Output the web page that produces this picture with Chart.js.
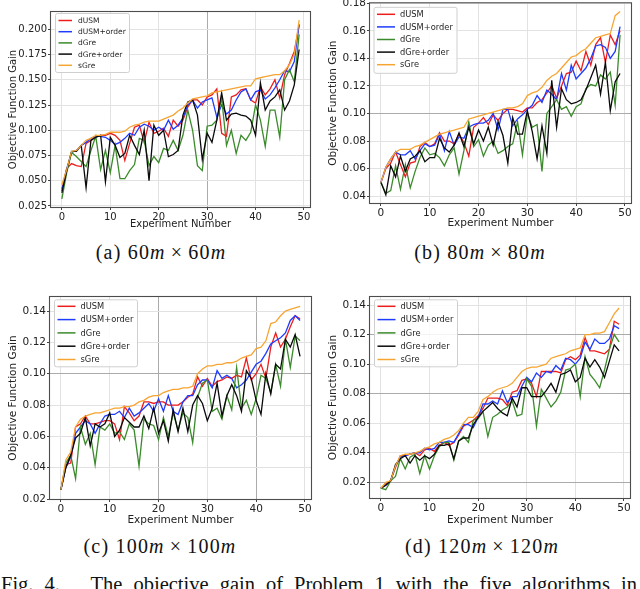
<!DOCTYPE html>
<html><head><meta charset="utf-8">
<script src="https://cdn.jsdelivr.net/npm/chart.js@4.4.0/dist/chart.umd.min.js"></script>
<style>
html,body{margin:0;padding:0;background:#fff;}
body{width:640px;height:589px;overflow:hidden;position:relative;font-family:'Liberation Serif','Times New Roman',serif;color:#111;}
canvas{position:absolute;}
.cap{position:absolute;font-family:'Liberation Serif',serif;font-size:20px;line-height:1;white-space:nowrap;letter-spacing:1.2px;transform:translateX(-50%);}
.cap .op{margin:0 5px;}
.fig{position:absolute;left:1px;top:574px;width:636px;font-family:'Liberation Serif',serif;font-size:20.5px;line-height:1;text-align:justify;text-align-last:justify;white-space:nowrap;}
.fig .lead{margin-right:20px;}
</style></head><body>
<canvas id="cA" width="320" height="230" style="left:0;top:0"></canvas>
<canvas id="cB" width="320" height="230" style="left:320px;top:0"></canvas>
<canvas id="cC" width="320" height="237" style="left:0;top:290px"></canvas>
<canvas id="cD" width="320" height="237" style="left:320px;top:290px"></canvas>
<div class="cap" style="left:161px;top:242px">(a) 60<i>m</i><span class="op">×</span>60<i>m</i></div>
<div class="cap" style="left:480px;top:242px">(b) 80<i>m</i><span class="op">×</span>80<i>m</i></div>
<div class="cap" style="left:160px;top:536px">(c) 100<i>m</i><span class="op">×</span>100<i>m</i></div>
<div class="cap" style="left:482px;top:536px">(d) 120<i>m</i><span class="op">×</span>120<i>m</i></div>
<div class="fig"><span class="lead">Fig. 4.</span> The objective gain of Problem 1 with the five algorithms in</div>
<script>
// ---------- data ----------
const seriesNames = ['dUSM', 'dUSM+order', 'dGre', 'dGre+order', 'sGre'];
const xTicks = [0, 10, 20, 30, 40, 50];

// (a) 60m x 60m
const yTicksA = [0.025, 0.050, 0.075, 0.100, 0.125, 0.150, 0.175, 0.200];
const dUSM_A = [0.042,0.062,0.067,0.065,0.064,0.087,0.090,0.094,0.095,0.095,0.097,0.095,0.090,0.070,0.087,0.103,0.105,0.088,0.108,0.097,0.099,0.102,0.094,0.110,0.104,0.110,0.123,0.130,0.130,0.125,0.133,0.135,0.141,0.097,0.094,0.133,0.135,0.140,0.141,0.130,0.127,0.143,0.135,0.141,0.150,0.132,0.155,0.166,0.178,0.204];
const dUSMorder_A = [0.040,0.062,0.078,0.080,0.085,0.088,0.092,0.094,0.094,0.093,0.090,0.086,0.088,0.092,0.097,0.095,0.103,0.106,0.104,0.100,0.103,0.100,0.110,0.101,0.105,0.112,0.125,0.130,0.122,0.128,0.130,0.132,0.113,0.125,0.116,0.120,0.130,0.138,0.141,0.130,0.138,0.140,0.131,0.135,0.142,0.150,0.159,0.158,0.168,0.205];
const dGre_A = [0.032,0.058,0.078,0.074,0.069,0.064,0.080,0.094,0.061,0.080,0.058,0.085,0.052,0.052,0.060,0.066,0.092,0.090,0.065,0.074,0.068,0.082,0.080,0.090,0.080,0.095,0.120,0.100,0.065,0.060,0.104,0.105,0.110,0.132,0.085,0.100,0.077,0.095,0.090,0.098,0.125,0.110,0.084,0.120,0.120,0.093,0.150,0.160,0.148,0.195];
const dGreOrder_A = [0.038,0.060,0.079,0.079,0.085,0.043,0.090,0.093,0.095,0.049,0.093,0.085,0.073,0.077,0.095,0.085,0.076,0.100,0.050,0.105,0.095,0.100,0.074,0.076,0.080,0.115,0.128,0.130,0.115,0.071,0.097,0.088,0.110,0.137,0.110,0.116,0.117,0.115,0.114,0.110,0.095,0.147,0.120,0.129,0.133,0.140,0.120,0.129,0.145,0.180];
const sGre_A = [0.046,0.061,0.079,0.080,0.085,0.090,0.092,0.095,0.095,0.096,0.098,0.098,0.098,0.099,0.103,0.105,0.106,0.108,0.109,0.109,0.109,0.111,0.113,0.115,0.119,0.122,0.127,0.131,0.132,0.133,0.134,0.137,0.138,0.139,0.140,0.141,0.142,0.143,0.144,0.144,0.151,0.152,0.153,0.154,0.155,0.155,0.159,0.165,0.175,0.209];

// (b) 80m x 80m
const yTicksB = [0.04, 0.06, 0.08, 0.10, 0.12, 0.14, 0.16, 0.18];
const dUSM_B = [0.050,0.060,0.064,0.072,0.063,0.054,0.064,0.065,0.076,0.079,0.076,0.078,0.086,0.080,0.080,0.078,0.085,0.079,0.069,0.090,0.093,0.097,0.092,0.099,0.095,0.100,0.103,0.103,0.102,0.101,0.104,0.104,0.108,0.110,0.115,0.120,0.111,0.120,0.129,0.130,0.138,0.131,0.145,0.135,0.150,0.155,0.137,0.157,0.150,0.160];
const dUSMorder_B = [0.050,0.061,0.067,0.072,0.070,0.070,0.073,0.067,0.073,0.078,0.076,0.077,0.085,0.073,0.087,0.077,0.083,0.082,0.090,0.092,0.093,0.093,0.095,0.100,0.088,0.103,0.103,0.091,0.096,0.099,0.103,0.106,0.113,0.108,0.117,0.114,0.110,0.129,0.117,0.135,0.125,0.129,0.133,0.140,0.149,0.150,0.148,0.140,0.145,0.163];
const dGre_B = [0.050,0.042,0.044,0.062,0.045,0.063,0.046,0.058,0.068,0.075,0.070,0.071,0.068,0.062,0.070,0.075,0.056,0.073,0.094,0.076,0.081,0.069,0.077,0.080,0.071,0.073,0.076,0.078,0.094,0.070,0.100,0.090,0.092,0.058,0.100,0.105,0.110,0.103,0.105,0.098,0.105,0.107,0.118,0.121,0.120,0.128,0.125,0.130,0.106,0.157];
const dGreOrder_B = [0.050,0.041,0.062,0.054,0.069,0.058,0.067,0.069,0.073,0.065,0.068,0.068,0.082,0.075,0.072,0.077,0.086,0.076,0.090,0.078,0.088,0.080,0.090,0.077,0.094,0.084,0.064,0.097,0.085,0.085,0.102,0.087,0.067,0.091,0.071,0.124,0.090,0.118,0.110,0.107,0.108,0.110,0.117,0.126,0.135,0.114,0.137,0.102,0.123,0.129];
const sGre_B = [0.050,0.061,0.067,0.072,0.074,0.074,0.074,0.076,0.077,0.079,0.081,0.083,0.085,0.086,0.087,0.088,0.089,0.090,0.096,0.097,0.098,0.099,0.100,0.101,0.102,0.103,0.104,0.104,0.105,0.107,0.113,0.115,0.116,0.119,0.124,0.127,0.129,0.133,0.137,0.141,0.142,0.145,0.147,0.151,0.155,0.156,0.157,0.158,0.171,0.174];

// (c) 100m x 100m
const yTicksC = [0.02, 0.04, 0.06, 0.08, 0.10, 0.12, 0.14];
const dUSM_C = [0.026,0.042,0.043,0.066,0.068,0.073,0.068,0.068,0.069,0.070,0.070,0.068,0.058,0.079,0.075,0.070,0.073,0.082,0.082,0.081,0.082,0.082,0.080,0.080,0.080,0.082,0.085,0.087,0.098,0.092,0.097,0.092,0.095,0.096,0.098,0.097,0.099,0.098,0.110,0.096,0.100,0.106,0.097,0.117,0.126,0.117,0.122,0.130,0.137,0.135];
const dUSMorder_C = [0.026,0.040,0.047,0.062,0.066,0.070,0.068,0.062,0.068,0.073,0.074,0.074,0.076,0.072,0.078,0.073,0.075,0.078,0.081,0.076,0.084,0.076,0.086,0.076,0.074,0.082,0.086,0.086,0.093,0.096,0.096,0.091,0.102,0.097,0.099,0.097,0.091,0.093,0.096,0.101,0.106,0.108,0.113,0.119,0.121,0.123,0.126,0.134,0.137,0.134];
const dGre_C = [0.026,0.043,0.048,0.033,0.066,0.055,0.062,0.042,0.066,0.064,0.068,0.062,0.063,0.058,0.068,0.064,0.041,0.071,0.068,0.067,0.058,0.072,0.060,0.075,0.064,0.075,0.072,0.056,0.085,0.094,0.096,0.076,0.078,0.071,0.086,0.077,0.104,0.078,0.083,0.074,0.084,0.099,0.097,0.088,0.106,0.092,0.122,0.104,0.124,0.121];
const dGreOrder_C = [0.026,0.040,0.048,0.059,0.062,0.072,0.054,0.068,0.066,0.068,0.075,0.060,0.064,0.072,0.069,0.066,0.066,0.073,0.065,0.078,0.062,0.070,0.057,0.077,0.063,0.078,0.063,0.080,0.086,0.081,0.070,0.078,0.094,0.073,0.086,0.093,0.086,0.076,0.102,0.097,0.083,0.074,0.100,0.087,0.106,0.103,0.122,0.117,0.125,0.111];
const sGre_C = [0.026,0.045,0.050,0.066,0.071,0.073,0.074,0.075,0.075,0.076,0.077,0.078,0.078,0.079,0.079,0.080,0.082,0.083,0.085,0.086,0.086,0.088,0.089,0.090,0.090,0.091,0.091,0.092,0.100,0.103,0.105,0.105,0.106,0.106,0.107,0.107,0.108,0.110,0.111,0.112,0.116,0.117,0.121,0.132,0.133,0.137,0.140,0.141,0.142,0.143];

// (d) 120m x 120m
const yTicksD = [0.02, 0.04, 0.06, 0.08, 0.10, 0.12, 0.14];
const dUSM_D = [0.016,0.019,0.021,0.030,0.038,0.038,0.039,0.040,0.038,0.042,0.043,0.041,0.045,0.047,0.045,0.047,0.052,0.058,0.060,0.062,0.065,0.070,0.077,0.077,0.077,0.076,0.072,0.081,0.082,0.089,0.090,0.087,0.078,0.095,0.095,0.095,0.095,0.094,0.103,0.105,0.103,0.106,0.118,0.109,0.109,0.108,0.107,0.110,0.129,0.127];
const dUSMorder_D = [0.016,0.018,0.021,0.031,0.037,0.038,0.039,0.040,0.040,0.043,0.042,0.043,0.047,0.047,0.048,0.047,0.053,0.059,0.059,0.057,0.064,0.073,0.073,0.075,0.073,0.082,0.074,0.078,0.078,0.085,0.091,0.088,0.094,0.091,0.095,0.094,0.099,0.096,0.104,0.103,0.100,0.104,0.115,0.110,0.117,0.114,0.114,0.117,0.126,0.124];
const dGre_D = [0.016,0.015,0.021,0.024,0.036,0.029,0.037,0.039,0.026,0.038,0.029,0.038,0.044,0.047,0.047,0.035,0.048,0.051,0.047,0.062,0.063,0.068,0.051,0.064,0.066,0.069,0.071,0.075,0.065,0.066,0.090,0.085,0.058,0.083,0.077,0.071,0.075,0.081,0.096,0.097,0.100,0.078,0.105,0.093,0.089,0.084,0.096,0.110,0.120,0.115];
const dGreOrder_D = [0.016,0.018,0.021,0.032,0.036,0.038,0.033,0.038,0.035,0.038,0.036,0.039,0.045,0.045,0.046,0.036,0.048,0.050,0.050,0.059,0.064,0.068,0.071,0.074,0.070,0.067,0.065,0.077,0.071,0.084,0.084,0.078,0.078,0.078,0.082,0.087,0.081,0.093,0.094,0.096,0.088,0.091,0.104,0.098,0.103,0.098,0.091,0.102,0.113,0.109];
const sGre_D = [0.016,0.020,0.021,0.031,0.038,0.039,0.039,0.040,0.041,0.043,0.044,0.046,0.047,0.049,0.050,0.052,0.055,0.060,0.064,0.064,0.068,0.076,0.078,0.081,0.083,0.084,0.085,0.087,0.091,0.095,0.097,0.098,0.098,0.099,0.100,0.104,0.105,0.106,0.107,0.109,0.110,0.111,0.120,0.120,0.121,0.121,0.122,0.128,0.134,0.138];

// ---------- styles ----------
const seriesColors = ['#ee1d1d', '#1e3cff', '#3b8a2b', '#0a0a0a', '#f6a532'];
const GRID_LIGHT = '#e2e2e2';
const GRID_DARK = '#ababab';
const FONT = "'DejaVu Sans', sans-serif";

const framePlugin = {
  id: 'frame',
  afterDraw(chart) {
    const {ctx, chartArea: a} = chart;
    ctx.save();
    ctx.strokeStyle = '#4d4d4d';
    ctx.lineWidth = 1.1;
    ctx.strokeRect(a.left + 0.5, a.top + 0.5, a.right - a.left - 1, a.bottom - a.top - 1);
    ctx.restore();
  }
};

const boxLegend = {
  id: 'boxLegend',
  afterDraw(chart, args, o) {
    const {ctx, chartArea: a} = chart;
    const x = a.left + o.dx, y = a.top + o.dy;
    ctx.save();
    ctx.beginPath();
    ctx.roundRect(x + 0.5, y + 0.5, o.w, o.h, 2);
    ctx.fillStyle = 'rgba(255,255,255,0.85)';
    ctx.fill();
    ctx.strokeStyle = '#cfcfcf';
    ctx.lineWidth = 1;
    ctx.stroke();
    ctx.font = o.font + 'px ' + FONT;
    ctx.textBaseline = 'middle';
    chart.data.datasets.forEach((ds, k) => {
      const cy = y + o.first + k * o.row;
      ctx.beginPath();
      ctx.strokeStyle = ds.borderColor;
      ctx.lineWidth = 1.5;
      ctx.moveTo(x + o.lx, cy);
      ctx.lineTo(x + o.lx + o.len, cy);
      ctx.stroke();
      ctx.fillStyle = '#262626';
      ctx.fillText(ds.label, x + o.tx, cy + 0.5);
    });
    ctx.restore();
  }
};

function makeChart(id, seriesList, yTicks, L) {
  const canvas = document.getElementById(id);
  const W = canvas.width, H = canvas.height;
  const datasets = seriesList.map((vals, k) => ({
    label: seriesNames[k],
    data: vals.map((v, i) => ({x: i, y: v})),
    borderColor: seriesColors[k],
    backgroundColor: seriesColors[k],
    borderWidth: 1.3,
    pointRadius: 0,
    tension: 0,
    fill: false,
    order: seriesList.length - 1 - k
  }));
  return new Chart(canvas, {
    type: 'line',
    data: {datasets},
    options: {
      responsive: false,
      animation: false,
      events: [],
      layout: {padding: {left: L.pl, top: L.top, right: W - L.right, bottom: 0}},
      plugins: {
        legend: {display: false},
        tooltip: {enabled: false},
        boxLegend: L.legend
      },
      scales: {
        x: {
          type: 'linear', min: -2.45, max: 51.45,
          afterBuildTicks: s => { s.ticks = xTicks.map(v => ({value: v})); },
          afterFit: s => { s.height = H - L.bottom; s.paddingLeft = 0; s.paddingRight = 0; },
          border: {display: false},
          grid: {
            color: c => (c.tick && L.darkX.includes(c.tick.value)) ? GRID_DARK : GRID_LIGHT,
            lineWidth: 1, tickLength: 2, tickColor: '#444'
          },
          ticks: {font: {family: FONT, size: L.tickFont}, color: '#222', padding: 1, maxRotation: 0, autoSkip: false,
                  callback: v => String(v)},
          title: {display: true, text: 'Experiment Number', font: {family: FONT, size: L.titleFont}, color: '#222', padding: 0}
        },
        y: {
          min: L.ymin, max: L.ymax,
          afterBuildTicks: s => { s.ticks = yTicks.map(v => ({value: v})); },
          afterFit: s => { s.width = L.left - L.pl; s.paddingTop = 0; s.paddingBottom = 0; },
          border: {display: false},
          grid: {
            color: c => (c.tick && L.darkY.some(d => Math.abs(d - c.tick.value) < 1e-9)) ? GRID_DARK : GRID_LIGHT,
            lineWidth: 1, tickLength: 2, tickColor: '#444'
          },
          ticks: {font: {family: FONT, size: L.tickFont}, color: '#222', padding: 1, autoSkip: false,
                  callback: v => v.toFixed(L.dec)},
          title: {display: true, text: 'Objective Function Gain', font: {family: FONT, size: L.titleFont}, color: '#222', padding: 0}
        }
      }
    },
    plugins: [framePlugin, boxLegend]
  });
}

makeChart('cA', [dUSM_A, dUSMorder_A, dGre_A, dGreOrder_A, sGre_A], yTicksA, {
  pl: 7, left: 50, top: 11, right: 311, bottom: 208, ymin: 0.0230, ymax: 0.2181, dec: 3,
  tickFont: 10, titleFont: 10, darkX: [30], darkY: [],
  legend: {dx: 5, dy: 2, w: 74, h: 59, font: 7.5, first: 7.5, row: 11.2, lx: 3.5, len: 13.5, tx: 23}
});
makeChart('cB', [dUSM_B, dUSMorder_B, dGre_B, dGreOrder_B, sGre_B], yTicksB, {
  pl: 7, left: 49, top: 2.3, right: 312, bottom: 204, ymin: 0.0343, ymax: 0.1807, dec: 2,
  tickFont: 10.5, titleFont: 10.5, darkX: [], darkY: [0.10],
  legend: {dx: 4.5, dy: 4.5, w: 83, h: 66, font: 8.3, first: 7.5, row: 12.6, lx: 3.5, len: 18, tx: 26.5}
});
makeChart('cC', [dUSM_C, dUSMorder_C, dGre_C, dGreOrder_C, sGre_C], yTicksC, {
  pl: 7, left: 49, top: 6, right: 312, bottom: 210, ymin: 0.0194, ymax: 0.1496, dec: 2,
  tickFont: 10.5, titleFont: 10.5, darkX: [20, 40], darkY: [0.10],
  legend: {dx: 5, dy: 3.3, w: 83, h: 67, font: 8.3, first: 7, row: 13.3, lx: 3.5, len: 18, tx: 26.5}
});
makeChart('cD', [dUSM_D, dUSMorder_D, dGre_D, dGreOrder_D, sGre_D], yTicksD, {
  pl: 7, left: 49, top: 6, right: 311, bottom: 209, ymin: 0.0087, ymax: 0.1461, dec: 2,
  tickFont: 10.5, titleFont: 10.5, darkX: [], darkY: [0.02, 0.08, 0.12],
  legend: {dx: 5, dy: 3.3, w: 83, h: 67, font: 8.3, first: 7, row: 13.3, lx: 3.5, len: 18, tx: 26.5}
});
</script>
</body></html>
